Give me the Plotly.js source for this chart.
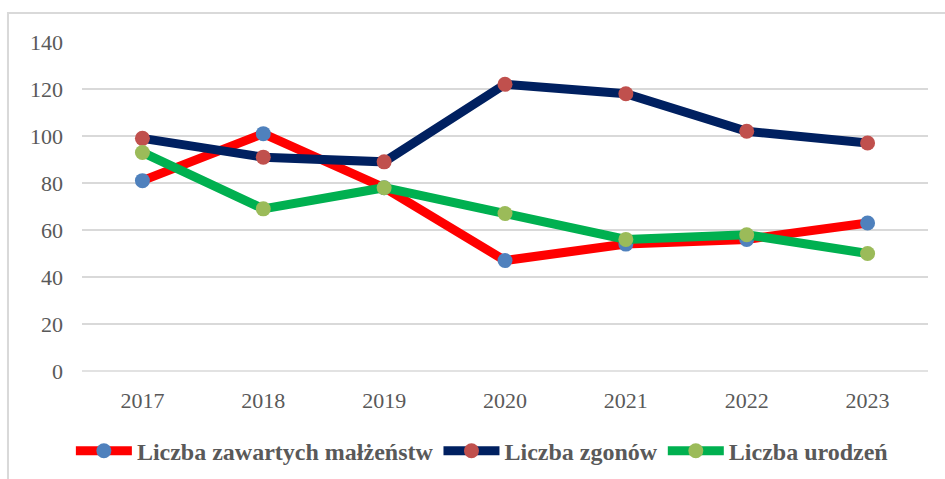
<!DOCTYPE html>
<html>
<head>
<meta charset="utf-8">
<script src="https://cdn.plot.ly/plotly-3.0.1.min.js"></script>
<style>
html,body{margin:0;padding:0;background:#fff;}
#chart{width:945px;height:479px;}
</style>
</head>
<body>
<div id="chart"></div>
<script>
var years = ['2017','2018','2019','2020','2021','2022','2023'];
var malzenstwa = [81, 101, 78, 47, 54, 56, 63];
var zgony = [99, 91, 89, 122, 118, 102, 97];
var urodzenia = [93, 69, 78, 67, 56, 58, 50];
var yTicks = [0, 20, 40, 60, 80, 100, 120, 140];

var traces = [
  {x: years, y: malzenstwa, name: 'Liczba zawartych małżeństw', type: 'scatter', mode: 'lines+markers',
   line: {color: '#FF0000', width: 9}, marker: {color: '#4F81BD', size: 15}},
  {x: years, y: zgony, name: 'Liczba zgonów', type: 'scatter', mode: 'lines+markers',
   line: {color: '#002060', width: 9}, marker: {color: '#C0504D', size: 15}},
  {x: years, y: urodzenia, name: 'Liczba urodzeń', type: 'scatter', mode: 'lines+markers',
   line: {color: '#00B050', width: 9}, marker: {color: '#9BBB59', size: 15}}
];

var layout = {
  width: 945, height: 479,
  margin: {l: 82, r: 17, t: 42, b: 108},
  paper_bgcolor: '#fff', plot_bgcolor: '#fff',
  font: {family: "'Liberation Serif', 'Times New Roman', serif", color: '#595959', size: 22},
  showlegend: true,
  legend: {orientation: 'h', xref: 'container', yref: 'container', x: 0.075, xanchor: 'left',
    y: 0.058, yanchor: 'middle',
    font: {family: "'Liberation Serif', 'Times New Roman', serif", size: 24, color: '#595959', weight: 'bold'},
    itemwidth: 56, traceorder: 'normal'},
  xaxis: {type: 'category', range: [-0.5, 6.5], showgrid: false, zeroline: false, showline: false,
    ticks: '', tickfont: {size: 22, color: '#595959'}, ticklabelstandoff: 14, fixedrange: true},
  yaxis: {range: [0, 140], tickvals: yTicks, ticktext: yTicks.map(String), showgrid: true,
    gridcolor: '#D9D9D9', gridwidth: 1.5, zeroline: false, showline: false, ticks: '',
    tickfont: {size: 22, color: '#595959'}, ticklabelstandoff: 18, fixedrange: true},
  shapes: [
    {type: 'line', xref: 'paper', yref: 'paper', x0: 0, x1: 1, y0: 0, y1: 0,
     line: {color: '#D9D9D9', width: 1.5}, layer: 'below'},
    {type: 'rect', xref: 'paper', yref: 'paper', x0: -0.0875, x1: 1.1, y0: -0.5, y1: 1.088,
     line: {color: '#D9D9D9', width: 2}, fillcolor: 'rgba(0,0,0,0)', layer: 'below'}
  ]
};

Plotly.newPlot('chart', traces, layout, {displayModeBar: false, staticPlot: true});
</script>
</body>
</html>
